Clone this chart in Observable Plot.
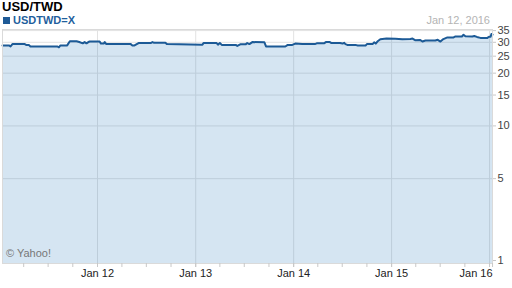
<!DOCTYPE html>
<html>
<head>
<meta charset="utf-8">
<script src="https://cdn.jsdelivr.net/npm/d3@7"></script>
<script src="https://cdn.jsdelivr.net/npm/@observablehq/plot@0.6"></script>
<style>
  body { margin: 0; background: #fff; }
  #wrap { position: relative; width: 512px; height: 288px; font-family: "Liberation Sans", Arial, sans-serif; }
  #wrap svg { position: absolute; left: 0; top: 0; }
  .t { position: absolute; line-height: 1; white-space: nowrap; z-index: 2; }
</style>
</head>
<body>
<div id="wrap">
  <div class="t" style="left:2px;top:0px;font-weight:bold;font-size:13px;color:#000;">USD/TWD</div>
  <div class="t" style="left:3px;top:17px;width:7px;height:7px;background:#1f5a96;"></div>
  <div class="t" style="left:13px;top:15px;font-weight:bold;font-size:11px;color:#1f5f9d;">USDTWD=X</div>
  <div class="t" style="right:22px;top:15px;font-size:11px;color:#b4b4b4;">Jan 12, 2016</div>
  <div class="t" style="left:6px;top:248px;font-size:11px;color:#777;">© Yahoo!</div>
</div>
<script>
const title = "USD/TWD";
const dates = [
  "2011-01-12","2011-02-05","2011-02-11","2011-02-18","2011-04-05","2011-04-10","2011-04-20","2011-04-26",
  "2011-08-05","2011-08-10","2011-08-16","2011-09-10","2011-09-20","2011-10-15","2011-10-25","2011-11-07",
  "2011-11-14","2011-11-21","2011-11-28","2011-12-03","2012-01-09","2012-01-14","2012-01-24","2012-01-28",
  "2012-02-03","2012-05-04","2012-05-10","2012-05-18","2012-06-02","2012-07-17","2012-07-24","2012-07-30",
  "2012-09-10","2012-09-16","2013-01-26","2013-01-30","2013-03-20","2013-03-25","2013-04-01","2013-04-08",
  "2013-05-30","2013-06-05","2013-06-16","2013-07-06","2013-07-12","2013-07-20","2013-07-31","2013-09-14",
  "2013-09-20","2013-12-01","2013-12-10","2013-12-27","2014-01-07","2014-02-02","2014-03-21","2014-03-28",
  "2014-04-24","2014-05-01","2014-05-16","2014-05-22","2014-06-23","2014-07-02","2014-07-08","2014-07-13",
  "2014-07-20","2014-08-19","2014-08-28","2014-09-26","2014-10-01","2014-10-22","2014-10-28","2014-11-03",
  "2014-11-09","2014-11-20","2014-12-13","2015-01-15","2015-02-10","2015-03-12","2015-03-20","2015-03-31",
  "2015-04-18","2015-04-26","2015-05-07","2015-06-13","2015-06-22","2015-07-02","2015-07-13","2015-07-28",
  "2015-08-20","2015-08-27","2015-09-20","2015-09-26","2015-10-03","2015-10-29","2015-11-05","2015-11-15",
  "2015-11-28","2015-12-24","2015-12-30","2016-01-05","2016-01-08","2016-01-12"
];
const values = [
  28.8,28.8,28.4,29.3,29.3,29.0,29.0,28.4,
  28.4,28.1,28.8,28.8,30.4,30.4,30.1,29.6,
  30.1,29.6,30.1,30.3,30.3,29.5,29.5,30.1,
  29.3,29.3,28.8,28.8,29.7,29.7,30.1,29.8,
  29.8,29.3,29.1,29.7,29.7,29.1,29.7,29.0,
  29.0,28.6,29.2,29.2,29.7,29.3,30.1,30.0,
  28.4,28.4,29.0,29.0,29.5,29.3,29.3,29.6,
  29.6,30.1,30.1,29.7,29.7,29.5,29.8,29.3,
  29.0,29.0,28.8,28.8,29.3,29.3,30.0,29.5,
  30.3,31.2,31.5,31.4,31.2,31.3,31.5,30.8,
  30.9,30.3,30.7,30.7,31.0,30.3,31.3,32.0,
  32.0,32.4,32.4,33.1,32.5,32.4,32.6,32.2,
  31.8,31.8,32.3,32.3,33.5,33.2
];
const yTicks = [5, 10, 15, 20, 25, 30, 35];
const yBottomTick = [1];
const xYearTicks = ["2012-01-01","2013-01-01","2014-01-01","2015-01-01"];
const xLastYearTick = ["2016-01-01"];
const xQuarterTicks = [
  "2011-04-01","2011-07-01","2011-10-01","2012-01-01","2012-04-01","2012-07-01","2012-10-01",
  "2013-01-01","2013-04-01","2013-07-01","2013-10-01","2014-01-01","2014-04-01","2014-07-01","2014-10-01",
  "2015-01-01","2015-04-01","2015-07-01","2015-10-01","2016-01-01"
];
const xDomain = ["2011-01-12", "2016-01-12"];
const yDomain = [1.64, 35.5];

const data = dates.map((d, i) => ({date: new Date(d), value: values[i]}));
const yearTicks = xYearTicks.map(d => new Date(d));
const lastYearTick = xLastYearTick.map(d => new Date(d));
const allYearTicks = yearTicks.concat(lastYearTick);
const quarterTicks = xQuarterTicks.map(d => new Date(d));
const fmt = d3.utcFormat("%b %y");

const chart = Plot.plot({
  width: 512,
  height: 288,
  marginTop: 29,
  marginBottom: 25,
  marginLeft: 2,
  marginRight: 20,
  style: {fontFamily: "'Liberation Sans', Arial, sans-serif", fontSize: "11px", background: "transparent", overflow: "visible"},
  x: {type: "utc", domain: xDomain.map(d => new Date(d))},
  y: {type: "log", domain: yDomain, clamp: true},
  marks: [
    Plot.gridX(allYearTicks, {stroke: "#e2e2e2", strokeOpacity: 1}),
    Plot.gridY(yTicks, {stroke: "#e2e2e2", strokeOpacity: 1}),
    Plot.areaY(data, {x: "date", y1: 1, y2: "value", fill: "#2f7ec0", fillOpacity: 0.2}),
    Plot.lineY(data, {x: "date", y: "value", stroke: "#1c5a96", strokeWidth: 2}),
    Plot.frame({stroke: "#dadada"}),
    Plot.axisX(quarterTicks, {tickSize: 4, tickFormat: () => "", stroke: "#c8c8c8"}),
    Plot.axisX(yearTicks, {tickSize: 4, tickPadding: 2, tickFormat: fmt, stroke: "#c8c8c8", fill: "#222", label: null}),
    Plot.axisX(lastYearTick, {tickSize: 4, tickPadding: 2, tickFormat: fmt, textAnchor: "end", dx: 3, stroke: "#c8c8c8", fill: "#222", label: null}),
    Plot.axisY(yTicks, {anchor: "right", tickSize: 3, tickPadding: 2, stroke: "#c8c8c8", fill: "#444", label: null, tickFormat: d => String(d)}),
    Plot.axisY(yBottomTick, {anchor: "right", tickSize: 3, tickPadding: 2, dy: -3, stroke: "#c8c8c8", fill: "#444", label: null, tickFormat: d => String(d)})
  ]
});
document.getElementById("wrap").appendChild(chart);
</script>
</body>
</html>
